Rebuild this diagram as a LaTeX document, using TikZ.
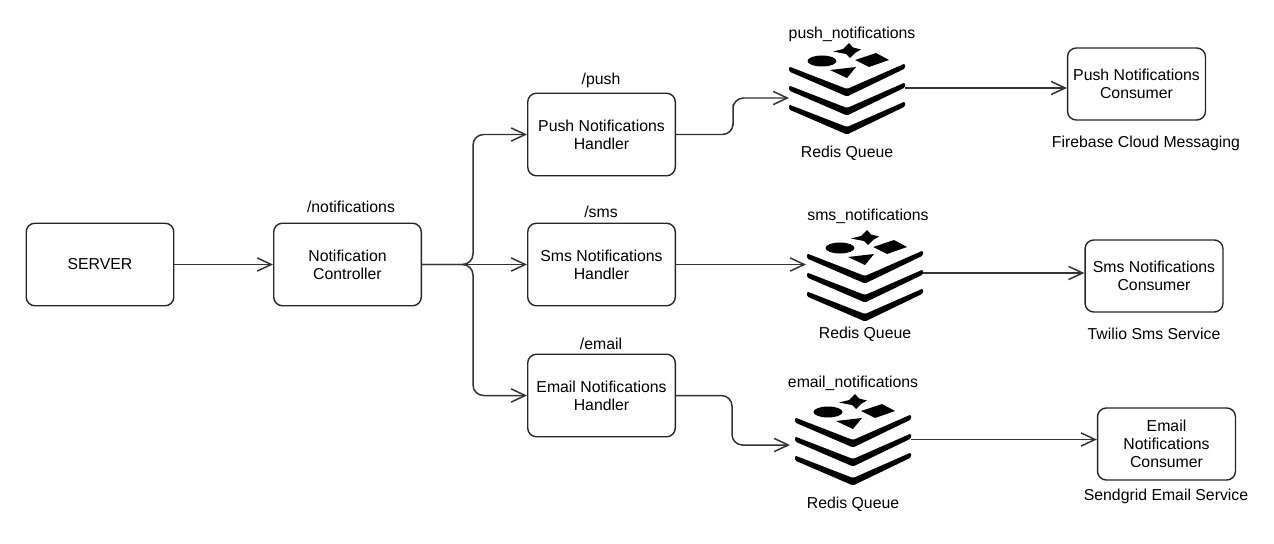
\documentclass[tikz,border=0pt]{standalone}
\usepackage{fontspec}
\setmainfont{Liberation Sans}
\usetikzlibrary{arrows.meta}
\tikzset{
  box/.style={draw=black!85,line width=0.8pt,rounded corners=5pt,align=center,inner sep=0pt,
    minimum width=84pt,minimum height=47pt,font=\fontsize{9}{10.2}\selectfont},
  consumer/.style={box,minimum width=78.5pt,minimum height=41pt},
  lbl/.style={inner sep=0pt,font=\fontsize{9}{10.2}\selectfont},
  queue/.style={inner sep=0pt,minimum width=66pt,minimum height=51pt},
  conn/.style={draw=black!80,line width=0.85pt,-{Straight Barb[length=8pt,width=7.5pt]}},
  elbow/.style={conn,rounded corners=6pt},
  redisicon/.pic={
    % three layers
    \foreach \d in {0,19,38}
      \fill[rounded corners=0.8pt] (-58,-20.5+\d) -- (0,2+\d) -- (58,-23.5+\d) -- (58,-18.5+\d) -- (0,9.5+\d) -- (-58,-15.5+\d) -- cycle;
    % shapes on top
    \fill (2,-44) -- (6,-39.5) -- (14,-37.5) -- (8,-34) -- (3,-29) -- (-1,-33) -- (-14,-35.5) -- (-4,-38) -- cycle;
    \fill (-25,-26) ellipse [x radius=14.5,y radius=5.5];
    \fill (8,-27) -- (29,-34) -- (42,-27) -- (22,-20) -- cycle;
    \fill (-17,-17) -- (9,-20) -- (0,-9) -- cycle;
  }
}
\begin{document}
\begin{tikzpicture}[x=0.02cm,y=-0.02cm]
  \useasboundingbox (0,0) rectangle (1274,544);

  % left side
  \node[box] (server) at (100,264.5) {SERVER};
  \node[box] (controller) at (347.5,264.5) {Notification\\Controller};
  \node[lbl] (controllerpath) at (351,207) {/notifications};

  % handlers
  \node[box] (pushhandler) at (601.5,134.5) {Push Notifications\\Handler};
  \node[box] (smshandler) at (601.5,264.5) {Sms Notifications\\Handler};
  \node[box] (emailhandler) at (601.5,395.5) {Email Notifications\\Handler};
  \node[lbl] (pushpath) at (601,80) {/push};
  \node[lbl] (smspath) at (601,212) {/sms};
  \node[lbl] (emailpath) at (601,344) {/email};

  % queues
  \node[queue] (pushqueue) at (847,87) {};
  \node[queue] (smsqueue) at (865,274) {};
  \node[queue] (emailqueue) at (853,438) {};
  \pic at (pushqueue) {redisicon};
  \pic at (smsqueue) {redisicon};
  \pic at (emailqueue) {redisicon};
  \node[lbl] (pushname) at (852,34) {push\_notifications};
  \node[lbl] (smsname) at (868,216) {sms\_notifications};
  \node[lbl] (emailname) at (853,383) {email\_notifications};
  \node[lbl] (pushredis) at (847,153) {Redis Queue};
  \node[lbl] (smsredis) at (865,334) {Redis Queue};
  \node[lbl] (emailredis) at (853,504) {Redis Queue};

  % consumers
  \node[consumer] (pushconsumer) at (1136.5,84) {Push Notifications\\Consumer};
  \node[consumer] (smsconsumer) at (1154,276) {Sms Notifications\\Consumer};
  \node[consumer] (emailconsumer) at (1166.5,444) {Email\\Notifications\\Consumer};
  \node[lbl] (pushservice) at (1146,143) {Firebase Cloud Messaging};
  \node[lbl] (smsservice) at (1154,334) {Twilio Sms Service};
  \node[lbl] (emailservice) at (1166,496) {Sendgrid Email Service};

  % helper points
  \coordinate (trunk) at (473,264.5);
  \coordinate (pushbend) at (733,115);
  \coordinate (emailbend) at (732,420);
  \coordinate (pushin) at (789,98);
  \coordinate (smsin) at (806,264.5);
  \coordinate (emailin) at (790,445);
  \coordinate (pushout) at (905,88);
  \coordinate (smsout) at (923,273);
  \coordinate (emailout) at (911,439.5);

  % connectors
  \draw[conn] (server) -- (controller);
  \draw[elbow] (controller.east) -- (trunk) |- (pushhandler.west);
  \draw[conn] (controller.east) -- (smshandler.west);
  \draw[elbow] (controller.east) -- (trunk) |- (emailhandler.west);
  \draw[elbow] (pushhandler.east) -| (pushbend) |- (pushin);
  \draw[conn] (smshandler.east) -- (smsin);
  \draw[elbow] (emailhandler.east) -| (emailbend) |- (emailin);
  \draw[conn] (pushout) -- (pushconsumer.west |- pushout);
  \draw[conn] (smsout) -- (smsconsumer.west |- smsout);
  \draw[conn] (emailout) -- (emailconsumer.west |- emailout);
\end{tikzpicture}
\end{document}
